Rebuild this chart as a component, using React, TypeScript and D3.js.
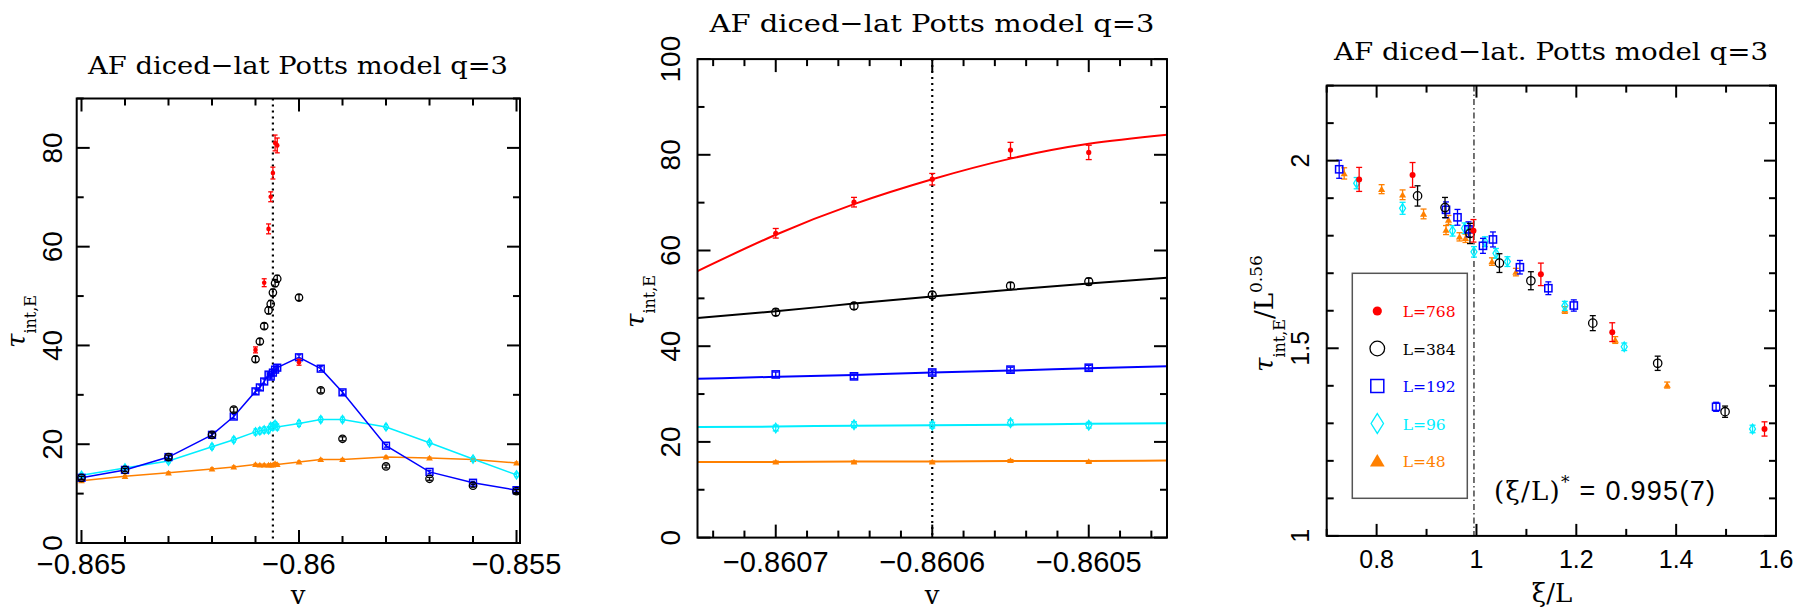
import React from "react";
import * as d3 from "d3";

// ---------- panel 1 / 2 : tau_int,E versus v ----------
const v1 = [-0.865, -0.864, -0.863, -0.862, -0.8615, -0.861, -0.8609, -0.8608, -0.8607, -0.86065,
  -0.8606, -0.86055, -0.8605, -0.86, -0.8595, -0.859, -0.858, -0.857, -0.856, -0.855];
const tau384 = [13.2, 14.8, 17.4, 21.9, 27.0, 37.2, 40.8, 43.9, 47.1, 48.4, 50.7, 52.6, 53.5, 49.7, 30.9, 21.1, 15.5, 13.0, 11.6, 10.5];
const err384 = [0.3, 0.3, 0.4, 0.4, 0.5, 0.6, 0.6, 0.6, 0.7, 0.7, 0.7, 0.7, 0.7, 0.6, 0.5, 0.4, 0.3, 0.3, 0.3, 0.3];
const tau192 = [13.2, 14.8, 17.4, 21.9, 25.6, 30.7, 31.5, 32.7, 34.1, 33.7, 34.5, 35.1, 35.5, 37.6, 35.3, 30.5, 19.7, 14.4, 12.2, 10.7];
const err192 = [0.3, 0.3, 0.3, 0.4, 0.4, 0.5, 0.5, 0.5, 0.5, 0.5, 0.5, 0.5, 0.5, 0.5, 0.4, 0.4, 0.3, 0.3, 0.3, 0.3];
const tau96 = [13.7, 15.2, 16.6, 19.5, 20.9, 22.5, 22.7, 22.9, 22.9, 23.6, 23.5, 24.0, 23.5, 24.2, 25.0, 25.0, 23.5, 20.3, 17.0, 13.8];
const err96 = [0.4, 0.4, 0.4, 0.5, 0.5, 0.6, 0.6, 0.6, 0.6, 0.6, 0.6, 0.6, 0.6, 0.6, 0.5, 0.5, 0.5, 0.4, 0.4, 0.4];
const tau48 = [12.6, 13.5, 14.2, 15.0, 15.4, 15.9, 15.8, 15.8, 15.8, 15.8, 15.8, 16.1, 15.9, 16.4, 16.9, 16.9, 17.4, 17.2, 16.9, 16.2];
const err48 = [0.2, 0.2, 0.2, 0.2, 0.2, 0.2, 0.2, 0.2, 0.2, 0.2, 0.2, 0.2, 0.2, 0.2, 0.2, 0.2, 0.2, 0.2, 0.2, 0.2];
const v768 = [-0.861, -0.8608, -0.8607, -0.86065, -0.8606, -0.86055, -0.8605, -0.86];
const tau768 = [39.1, 52.7, 63.6, 70.1, 74.9, 81.0, 80.5, 36.6];
const err768 = [0.6, 0.8, 1.0, 1.0, 1.2, 1.6, 1.5, 0.6];

// fitted curves of panel 2
const vFit = [-0.86075, -0.8607, -0.86065, -0.8606, -0.86055, -0.8605, -0.86045];
const fit768 = [55.7, 63.3, 69.7, 74.9, 79.2, 82.3, 84.2];
const fit384 = [45.9, 47.3, 48.9, 50.4, 51.8, 53.1, 54.3];
const fit192 = [33.2, 33.6, 34.0, 34.5, 34.9, 35.4, 35.8];
const fit96 = [23.1, 23.2, 23.4, 23.5, 23.6, 23.8, 23.9];
const fit48 = [15.8, 15.8, 15.9, 15.9, 16.0, 16.0, 16.1];

const vCrit = -0.8606;

// ---------- panel 3 : tau/L^0.56 versus xi/L ----------
const xi768 = [0.765, 0.872, 0.994, 1.129, 1.272, 1.577];
const sc768 = [1.950, 1.962, 1.813, 1.697, 1.543, 1.285];
const se768 = [0.032, 0.033, 0.030, 0.030, 0.025, 0.019];
const xi384 = [0.882, 0.937, 0.987, 1.046, 1.109, 1.233, 1.363, 1.498];
const sc384 = [1.906, 1.875, 1.806, 1.727, 1.680, 1.567, 1.460, 1.331];
const se384 = [0.027, 0.027, 0.027, 0.025, 0.024, 0.020, 0.019, 0.015];
const xi192 = [0.725, 0.939, 0.962, 0.984, 1.013, 1.033, 1.087, 1.144, 1.195, 1.480];
const sc192 = [1.977, 1.869, 1.849, 1.817, 1.773, 1.790, 1.716, 1.660, 1.614, 1.344];
const se192 = [0.024, 0.021, 0.021, 0.020, 0.020, 0.020, 0.018, 0.017, 0.015, 0.012];
const xi96 = [0.760, 0.852, 0.952, 0.976, 0.995, 1.017, 1.039, 1.062, 1.177, 1.296, 1.553];
const sc96 = [1.940, 1.873, 1.813, 1.820, 1.757, 1.784, 1.753, 1.731, 1.613, 1.504, 1.285];
const se96 = [0.015, 0.016, 0.014, 0.014, 0.014, 0.013, 0.013, 0.013, 0.012, 0.010, 0.010];
const xi48 = [0.735, 0.810, 0.852, 0.894, 0.944, 0.939, 0.966, 0.978, 1.031, 1.079, 1.177, 1.278, 1.382];
const sc48 = [1.966, 1.924, 1.909, 1.858, 1.842, 1.815, 1.797, 1.793, 1.731, 1.703, 1.602, 1.522, 1.402];
const se48 = [0.015, 0.012, 0.013, 0.013, 0.012, 0.012, 0.011, 0.011, 0.010, 0.010, 0.009, 0.009, 0.008];
const xiCrit = 0.995;

const legendLabels = ["L=768", "L=384", "L=192", "L=96", "L=48"];

const x1Labels = ["−0.865", "−0.86", "−0.855"];
const x1Major = [-0.865, -0.86, -0.855];
const y1Major = [0, 20, 40, 60, 80];
const x2Labels = ["−0.8607", "−0.8606", "−0.8605"];
const x2Major = [-0.8607, -0.8606, -0.8605];
const y2Major = [0, 20, 40, 60, 80, 100];
const x3Major = [0.8, 1, 1.2, 1.4, 1.6];
const x3Labels = ["0.8", "1", "1.2", "1.4", "1.6"];
const y3Major = [1, 1.5, 2];
const y3Labels = ["1", "1.5", "2"];

const serif = "DejaVu Serif";
const sans = "Liberation Sans";
const colors = { L768: "#ff0000", L384: "#000000", L192: "#0000ff", L96: "#00eeff", L48: "#ff8000" };

type Shape = "dot" | "circle" | "square" | "diamond" | "triangle";

const Marker = ({ shape, x, y, s, color }: { shape: Shape; x: number; y: number; s: number; color: string }) => {
  if (shape === "dot") return <circle cx={x} cy={y} r={s} fill={color} />;
  if (shape === "circle") return <circle cx={x} cy={y} r={s} fill="none" stroke={color} strokeWidth={1.3} />;
  if (shape === "square")
    return <rect x={x - s} y={y - s} width={2 * s} height={2 * s} fill="none" stroke={color} strokeWidth={1.5} />;
  if (shape === "diamond")
    return (
      <path d={`M${x},${y - s * 1.6}L${x + s},${y}L${x},${y + s * 1.6}L${x - s},${y}Z`} fill="none" stroke={color} strokeWidth={1.3} />
    );
  return <path d={`M${x},${y - s}L${x + s * 1.05},${y + s * 0.8}L${x - s * 1.05},${y + s * 0.8}Z`} fill={color} />;
};

const Points = ({ xs, ys, es, sx, sy, shape, s, color, cap = 3 }: any) => (
  <g>
    {xs.map((xv: number, i: number) => {
      const cx = sx(xv);
      const cy = sy(ys[i]);
      const top = sy(ys[i] + es[i]);
      const bot = sy(ys[i] - es[i]);
      return (
        <g key={i}>
          <line x1={cx} x2={cx} y1={top} y2={bot} stroke={color} strokeWidth={1.3} />
          <line x1={cx - cap} x2={cx + cap} y1={top} y2={top} stroke={color} strokeWidth={1.3} />
          <line x1={cx - cap} x2={cx + cap} y1={bot} y2={bot} stroke={color} strokeWidth={1.3} />
          <Marker shape={shape} x={cx} y={cy} s={s} color={color} />
        </g>
      );
    })}
  </g>
);

const Frame = ({ sx, sy, xMinor, xMajor, yMinor, yMajor, maj = 12, min = 7 }: any) => {
  const [xa, xb] = sx.range();
  const [ya, yb] = sy.range(); // ya bottom, yb top
  const isMaj = (list: number[], v: number, eps: number) => list.some((m) => Math.abs(m - v) < eps);
  const ex = Math.abs(sx.domain()[1] - sx.domain()[0]) * 1e-4;
  const ey = Math.abs(sy.domain()[1] - sy.domain()[0]) * 1e-4;
  return (
    <g stroke="#000" strokeWidth={2}>
      <rect x={xa} y={yb} width={xb - xa} height={ya - yb} fill="none" />
      {xMinor.map((v: number, i: number) => {
        const L = isMaj(xMajor, v, ex) ? maj : min;
        const X = sx(v);
        return (
          <g key={"x" + i}>
            <line x1={X} x2={X} y1={ya} y2={ya - L} />
            <line x1={X} x2={X} y1={yb} y2={yb + L} />
          </g>
        );
      })}
      {yMinor.map((v: number, i: number) => {
        const L = isMaj(yMajor, v, ey) ? maj : min;
        const Y = sy(v);
        return (
          <g key={"y" + i}>
            <line x1={xa} x2={xa + L} y1={Y} y2={Y} />
            <line x1={xb} x2={xb - L} y1={Y} y2={Y} />
          </g>
        );
      })}
    </g>
  );
};

const Title = ({ x, y, len, text }: any) => (
  <text x={x} y={y} textAnchor="middle" fontFamily={serif} fontSize={25} textLength={len} lengthAdjust="spacingAndGlyphs">
    {text}
  </text>
);

const Panel1 = () => {
  const sx = d3.scaleLinear().domain([-0.86511, -0.85492]).range([76.7, 520]);
  const sy = d3.scaleLinear().domain([0, 90]).range([543, 98.5]);
  const line = (ys: number[]) => d3.line<number>().x((_, i) => sx(v1[i])).y((d) => sy(d))(ys) || "";
  const xMinor = d3.range(0, 11).map((i) => -0.865 + i * 0.001);
  const yMinor = d3.range(0, 10).map((i) => i * 10);
  return (
    <g>
      <Title x={298} y={74} len={420} text="AF diced−lat Potts model q=3" />
      <line x1={sx(vCrit)} x2={sx(vCrit)} y1={sy(90)} y2={sy(0)} stroke="#000" strokeWidth={2.2} strokeDasharray="2,4" />
      <path d={line(tau48)} fill="none" stroke={colors.L48} strokeWidth={1.5} />
      <path d={line(tau96)} fill="none" stroke={colors.L96} strokeWidth={1.5} />
      <path d={line(tau192)} fill="none" stroke={colors.L192} strokeWidth={1.5} />
      <Points xs={v1} ys={tau48} es={err48} sx={sx} sy={sy} shape="triangle" s={3.2} color={colors.L48} cap={2} />
      <Points xs={v1} ys={tau96} es={err96} sx={sx} sy={sy} shape="diamond" s={2.6} color={colors.L96} cap={2} />
      <Points xs={v1} ys={tau192} es={err192} sx={sx} sy={sy} shape="square" s={3.4} color={colors.L192} cap={2} />
      <Points xs={v1} ys={tau384} es={err384} sx={sx} sy={sy} shape="circle" s={3.7} color={colors.L384} cap={2.5} />
      <Points xs={v768} ys={tau768} es={err768} sx={sx} sy={sy} shape="dot" s={2.3} color={colors.L768} cap={2.5} />
      <Frame sx={sx} sy={sy} xMinor={xMinor} xMajor={x1Major} yMinor={yMinor} yMajor={y1Major} maj={13} min={7} />
      {x1Major.map((v, i) => (
        <text key={i} x={sx(v)} y={574} textAnchor="middle" fontFamily={sans} fontSize={29}>
          {x1Labels[i]}
        </text>
      ))}
      {y1Major.map((v, i) => (
        <text key={i} transform={`translate(62,${sy(v)}) rotate(-90)`} textAnchor="middle" fontFamily={sans} fontSize={28}>
          {String(v)}
        </text>
      ))}
      <text x={298} y={604} textAnchor="middle" fontFamily={serif} fontSize={26}>v</text>
      <text transform={`translate(25,348) rotate(-90)`} fontFamily={serif} fontSize={26}>
        <tspan fontStyle="italic">τ</tspan>
        <tspan fontSize={16} dy={11}>int,E</tspan>
      </text>
    </g>
  );
};

const Panel2 = () => {
  const sx = d3.scaleLinear().domain([-0.86075, -0.86045]).range([697.5, 1167]);
  const sy = d3.scaleLinear().domain([0, 100]).range([537.6, 59.1]);
  const inside = (vs: number[]) => vs.map((v, i) => i).filter((i) => vs[i] >= -0.86075 && vs[i] <= -0.86045);
  const pick = (arr: number[], idx: number[]) => idx.map((i) => arr[i]);
  const idx = inside(v1);
  const idxR = inside(v768);
  const curve = (ys: number[]) =>
    d3.line<number>().curve(d3.curveNatural).x((_, i) => sx(vFit[i])).y((d) => sy(d))(ys) || "";
  const xMinor = d3.range(0, 15).map((i) => -0.86074 + i * 0.00002);
  const yMinor = d3.range(0, 11).map((i) => i * 10);
  const fits: [number[], string][] = [
    [fit48, colors.L48], [fit96, colors.L96], [fit192, colors.L192], [fit384, colors.L384], [fit768, colors.L768],
  ];
  return (
    <g>
      <Title x={932} y={32} len={445} text="AF diced−lat Potts model q=3" />
      <defs>
        <clipPath id="clip2">
          <rect x={697.5} y={59.1} width={469.5} height={478.5} />
        </clipPath>
      </defs>
      <line x1={sx(vCrit)} x2={sx(vCrit)} y1={sy(100)} y2={sy(0)} stroke="#000" strokeWidth={2.2} strokeDasharray="2,4" />
      <g clipPath="url(#clip2)">
        {fits.map(([f, c], i) => (
          <path key={i} d={curve(f)} fill="none" stroke={c} strokeWidth={2} />
        ))}
      </g>
      <Points xs={pick(v1, idx)} ys={pick(tau48, idx)} es={pick(err48, idx)} sx={sx} sy={sy} shape="triangle" s={3.2} color={colors.L48} />
      <Points xs={pick(v1, idx)} ys={pick(tau96, idx)} es={pick(err96, idx)} sx={sx} sy={sy} shape="diamond" s={3} color={colors.L96} />
      <Points xs={pick(v1, idx)} ys={pick(tau192, idx)} es={pick(err192, idx)} sx={sx} sy={sy} shape="square" s={3.6} color={colors.L192} />
      <Points xs={pick(v1, idx)} ys={pick(tau384, idx)} es={pick(err384, idx)} sx={sx} sy={sy} shape="circle" s={4} color={colors.L384} />
      <Points xs={pick(v768, idxR)} ys={pick(tau768, idxR)} es={pick(err768, idxR)} sx={sx} sy={sy} shape="dot" s={2.6} color={colors.L768} />
      <Frame sx={sx} sy={sy} xMinor={xMinor} xMajor={x2Major} yMinor={yMinor} yMajor={y2Major} maj={13} min={7} />
      {x2Major.map((v, i) => (
        <text key={i} x={sx(v)} y={572} textAnchor="middle" fontFamily={sans} fontSize={29}>
          {x2Labels[i]}
        </text>
      ))}
      {y2Major.map((v, i) => (
        <text key={i} transform={`translate(680,${sy(v)}) rotate(-90)`} textAnchor="middle" fontFamily={sans} fontSize={28}>
          {String(v)}
        </text>
      ))}
      <text x={932} y={604} textAnchor="middle" fontFamily={serif} fontSize={26}>v</text>
      <text transform={`translate(644,328) rotate(-90)`} fontFamily={serif} fontSize={26}>
        <tspan fontStyle="italic">τ</tspan>
        <tspan fontSize={16} dy={11}>int,E</tspan>
      </text>
    </g>
  );
};

const Panel3 = () => {
  const sx = d3.scaleLinear().domain([0.7, 1.6]).range([1326.7, 1776]);
  const sy = d3.scaleLinear().domain([1, 2.2]).range([535.9, 85.6]);
  const xMinor = d3.range(0, 10).map((i) => 0.7 + i * 0.1);
  const yMinor = d3.range(0, 13).map((i) => 1 + i * 0.1);
  const series: [number[], number[], number[], Shape, number, string][] = [
    [xi48, sc48, se48, "triangle", 3.4, colors.L48],
    [xi96, sc96, se96, "diamond", 3, colors.L96],
    [xi192, sc192, se192, "square", 3.6, colors.L192],
    [xi384, sc384, se384, "circle", 4.2, colors.L384],
    [xi768, sc768, se768, "dot", 3, colors.L768],
  ];
  const legendShapes: [Shape, number][] = [["dot", 4.6], ["circle", 7.3], ["square", 6.5], ["diamond", 6.2], ["triangle", 7]];
  const legendColors = [colors.L768, colors.L384, colors.L192, colors.L96, colors.L48];
  const ly = d3.scaleLinear().domain([0, 4]).range([311, 461]);
  return (
    <g>
      <Title x={1551} y={60} len={434} text="AF diced−lat. Potts model q=3" />
      <line x1={sx(xiCrit)} x2={sx(xiCrit)} y1={sy(2.2)} y2={sy(1)} stroke="#000" strokeWidth={1.1} strokeDasharray="6,3,1.5,3" />
      {series.map(([xs, ys, es, sh, s, c], i) => (
        <Points key={i} xs={xs} ys={ys} es={es} sx={sx} sy={sy} shape={sh} s={s} color={c} cap={3} />
      ))}
      <rect x={1352.3} y={273.3} width={115} height={225} fill="#fff" stroke="#555" strokeWidth={1.5} />
      {legendLabels.map((lab, i) => (
        <g key={i}>
          <Marker shape={legendShapes[i][0]} x={1377.3} y={ly(i)} s={legendShapes[i][1]} color={legendColors[i]} />
          <text x={1402.7} y={ly(i) + 6} fontFamily={serif} fontSize={15.5} fill={legendColors[i]}>
            {lab}
          </text>
        </g>
      ))}
      <Frame sx={sx} sy={sy} xMinor={xMinor} xMajor={x3Major} yMinor={yMinor} yMajor={y3Major} maj={12} min={7} />
      {x3Major.map((v, i) => (
        <text key={i} x={sx(v)} y={568} textAnchor="middle" fontFamily={sans} fontSize={25}>
          {x3Labels[i]}
        </text>
      ))}
      {y3Major.map((v, i) => (
        <text key={i} transform={`translate(1309,${sy(v)}) rotate(-90)`} textAnchor="middle" fontFamily={sans} fontSize={25}>
          {y3Labels[i]}
        </text>
      ))}
      <text x={1494} y={500} fontFamily={serif} fontSize={26} textLength={221} lengthAdjust="spacing">
        (ξ/L)<tspan fontSize={17} dy={-12}>*</tspan>
        <tspan dy={12} fontFamily={sans} fontSize={27}> = 0.995(7)</tspan>
      </text>
      <text x={1552} y={602} textAnchor="middle" fontFamily={serif} fontSize={26}>ξ/L</text>
      <text transform={`translate(1273,372) rotate(-90)`} fontFamily={serif} fontSize={26}>
        <tspan fontStyle="italic">τ</tspan>
        <tspan fontSize={16} dy={12}>int,E</tspan>
        <tspan dy={-12}>/L</tspan>
        <tspan fontSize={17} dy={-11}>0.56</tspan>
      </text>
    </g>
  );
};

export default function App() {
  return (
    <svg width={1810} height={610} style={{ position: "absolute", left: 0, top: 0, background: "#fff" }}>
      <Panel1 />
      <Panel2 />
      <Panel3 />
    </svg>
  );
}
